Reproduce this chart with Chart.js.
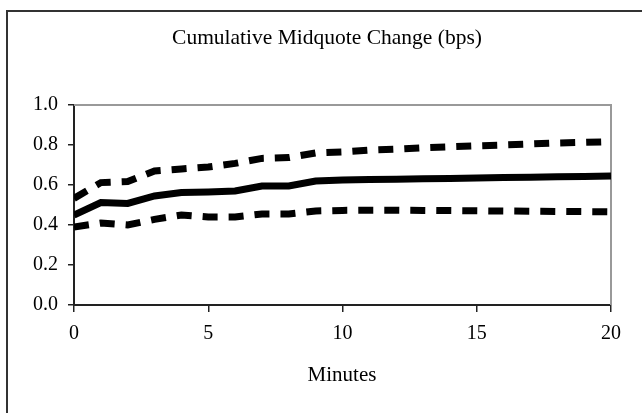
<!DOCTYPE html>
<html>
<head>
<meta charset="utf-8">
<script src="https://cdn.jsdelivr.net/npm/chart.js@4"></script>
<style>
html,body{margin:0;padding:0;background:#fff;}
#wrap{width:642px;height:413px;position:relative;}
</style>
</head>
<body>
<div id="wrap"><canvas id="c" width="642" height="413"></canvas></div>
<script>
const minutes = [0,1,2,3,4,5,6,7,8,9,10,11,12,13,14,15,16,17,18,19,20];
const midquote = [0.45,0.512,0.508,0.545,0.562,0.565,0.57,0.595,0.595,0.62,0.625,0.627,0.629,0.631,0.633,0.635,0.637,0.639,0.641,0.643,0.645];
const upperBand = [0.533,0.612,0.617,0.67,0.68,0.69,0.708,0.733,0.737,0.76,0.765,0.774,0.779,0.786,0.791,0.796,0.80,0.805,0.81,0.813,0.817];
const lowerBand = [0.39,0.41,0.40,0.428,0.45,0.44,0.44,0.455,0.455,0.47,0.473,0.474,0.474,0.473,0.472,0.471,0.47,0.469,0.468,0.467,0.466];
const yTicks = [0.0,0.2,0.4,0.6,0.8,1.0];
const xTicks = [0,5,10,15,20];
const titleText = "Cumulative Midquote Change (bps)";
const xTitleText = "Minutes";

const pts = arr => arr.map((v,i)=>({x:minutes[i], y:v}));
const serif = "'Liberation Serif', 'Times New Roman', serif";

const decor = {
  id:'decor',
  beforeDraw(chart){
    const ctx = chart.ctx;
    ctx.save();
    ctx.strokeStyle = '#333';
    ctx.lineWidth = 2;
    ctx.beginPath();
    ctx.moveTo(7, 413); ctx.lineTo(7, 11); ctx.lineTo(642, 11);
    ctx.stroke();
    ctx.restore();
  },
  beforeDatasetsDraw(chart){
    const {ctx, chartArea:a} = chart;
    ctx.save();
    ctx.strokeStyle = '#999';
    ctx.lineWidth = 2;
    ctx.beginPath();
    ctx.moveTo(a.left, a.top); ctx.lineTo(a.right, a.top); ctx.lineTo(a.right, a.bottom);
    ctx.stroke();
    ctx.restore();
  },
  afterDraw(chart){
    const ctx = chart.ctx;
    ctx.save();
    ctx.fillStyle = '#000';
    ctx.textAlign = 'center';
    ctx.textBaseline = 'middle';
    ctx.font = "21.5px " + serif;
    ctx.fillText(titleText, 327, 38);
    ctx.font = "21px " + serif;
    ctx.fillText(xTitleText, 342, 375);
    ctx.restore();
  }
};

new Chart(document.getElementById('c'), {
  type:'line',
  data:{
    datasets:[
      {label:'Upper', data:pts(upperBand), borderColor:'#000', borderWidth:7, borderDash:[15,11], pointRadius:0, tension:0, fill:false, borderCapStyle:'butt'},
      {label:'Midquote', data:pts(midquote), borderColor:'#000', borderWidth:7, pointRadius:0, tension:0, fill:false},
      {label:'Lower', data:pts(lowerBand), borderColor:'#000', borderWidth:7, borderDash:[15,11], pointRadius:0, tension:0, fill:false, borderCapStyle:'butt'}
    ]
  },
  options:{
    responsive:false,
    animation:false,
    devicePixelRatio:1,
    layout:{padding:{left:0, right:31, top:105, bottom:0}},
    plugins:{legend:{display:false}, title:{display:false}, tooltip:{enabled:false}},
    scales:{
      x:{
        type:'linear', min:0, max:20,
        afterBuildTicks(s){ s.ticks = xTicks.map(v=>({value:v})); },
        afterFit(s){ s.height = 108; },
        border:{display:true, color:'#222', width:2},
        grid:{drawOnChartArea:false, drawTicks:true, tickLength:7, color:'#222', lineWidth:1.5},
        ticks:{color:'#000', font:{family:serif, size:20}, padding:10, maxRotation:0, callback:v=>String(v)}
      },
      y:{
        min:0, max:1,
        afterBuildTicks(s){ s.ticks = yTicks.map(v=>({value:v})); },
        afterFit(s){ s.width = 74; },
        border:{display:true, color:'#222', width:2},
        grid:{drawOnChartArea:false, drawTicks:true, tickLength:6, color:'#222', lineWidth:1.5},
        ticks:{color:'#000', font:{family:serif, size:20}, padding:10, callback:v=>Number(v).toFixed(1)}
      }
    }
  },
  plugins:[decor]
});
</script>
</body>
</html>
